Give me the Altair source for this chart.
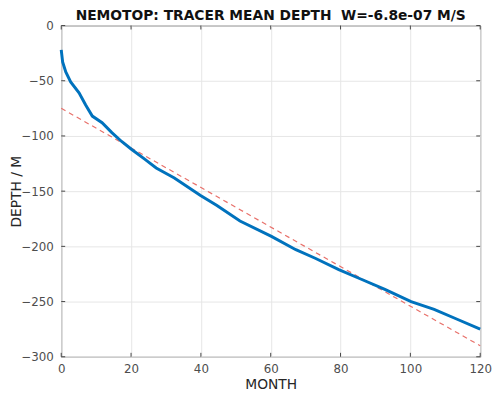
import altair as alt
import pandas as pd

months = [0, 0.4, 1.3, 2.7, 5.1, 7.0, 8.9, 11.7, 14.5, 17.3, 20.1, 23.9, 27.2,
          32.4, 39.9, 44.6, 51.2, 60.2, 67.2, 72.9, 79.5, 86.1, 92.7, 100.2,
          106.8, 113.4, 120]
depth = [-22, -33, -42, -51, -61, -72, -82, -88, -97, -105, -112, -121, -129,
         -138, -154, -163, -177, -191, -203, -211, -221, -230, -239, -250,
         -257, -266, -275]

fit_months = [0, 120]
fit_depth = [-75, -290]

x_ticks = [0, 20, 40, 60, 80, 100, 120]
y_ticks = [0, -50, -100, -150, -200, -250, -300]

W, H = 425, 336

df = pd.DataFrame({"month": months, "depth": depth})
fit = pd.DataFrame({"month": fit_months, "depth": fit_depth})
xt = pd.DataFrame({"v": x_ticks})
yt = pd.DataFrame({"v": y_ticks})

xs = alt.Scale(domain=[0, 120], nice=False, zero=False)
ys = alt.Scale(domain=[-300, 0], nice=False, zero=False)

base_axis_x = alt.Axis(values=x_ticks, title="MONTH", grid=True, ticks=False,
                       domain=False, labelPadding=7, titlePadding=3,
                       labelFlush=False)
base_axis_y = alt.Axis(values=y_ticks, title="DEPTH / M", grid=True, ticks=False,
                       domain=False, labelPadding=8, labelFlush=False,
                       titleX=-45, titleBaseline="middle")

line = alt.Chart(df).mark_line(color="#0072BD", strokeWidth=3).encode(
    x=alt.X("month:Q", scale=xs, axis=base_axis_x),
    y=alt.Y("depth:Q", scale=ys, axis=base_axis_y),
)

fitline = alt.Chart(fit).mark_line(color="#e8706a", strokeWidth=1.2,
                                   strokeDash=[5, 4]).encode(
    x=alt.X("month:Q", scale=xs),
    y=alt.Y("depth:Q", scale=ys),
)

tick_color = "#444444"
xt_bottom = alt.Chart(xt).mark_rule(color=tick_color, strokeWidth=1).encode(
    x=alt.X("v:Q", scale=xs), y=alt.value(H - 4), y2=alt.value(H))
xt_top = alt.Chart(xt).mark_rule(color=tick_color, strokeWidth=1).encode(
    x=alt.X("v:Q", scale=xs), y=alt.value(0), y2=alt.value(4))
yt_left = alt.Chart(yt).mark_rule(color=tick_color, strokeWidth=1).encode(
    y=alt.Y("v:Q", scale=ys), x=alt.value(0), x2=alt.value(4))
yt_right = alt.Chart(yt).mark_rule(color=tick_color, strokeWidth=1).encode(
    y=alt.Y("v:Q", scale=ys), x=alt.value(W - 4), x2=alt.value(W))

chart = alt.layer(fitline, line, xt_bottom, xt_top, yt_left, yt_right).properties(
    width=W, height=H,
    title=alt.TitleParams("NEMOTOP: TRACER MEAN DEPTH \u00a0W=-6.8e-07 M/S",
                          anchor="middle", fontSize=14, fontWeight="bold",
                          font="DejaVu Sans", color="#111111", offset=-3),
    autosize=alt.AutoSizeParams(type="none"),
    padding={"left": 54, "top": 15, "right": 14, "bottom": 38},
).configure_view(stroke="#555555", strokeWidth=1).configure_axis(
    labelFont="DejaVu Sans", titleFont="DejaVu Sans", labelFontSize=12,
    titleFontSize=14, titleFontWeight="normal", labelColor="#4d4d4d",
    titleColor="#262626", gridColor="#e6e6e6", gridWidth=1,
)

chart.save("out.html", embed_options={"renderer": "svg", "actions": False})
